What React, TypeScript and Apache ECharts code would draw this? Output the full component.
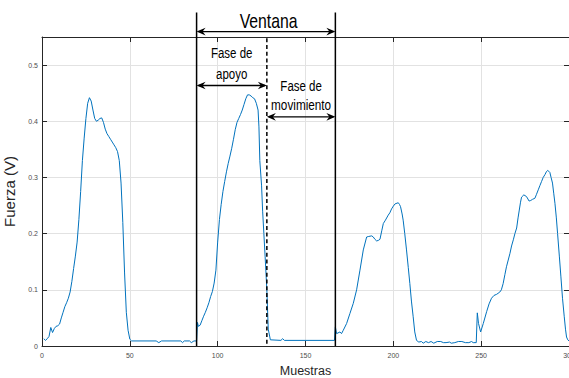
import React, { useEffect, useRef } from "react";
import * as echarts from "echarts";

// ---- Data ----
const muestras = [
  1, 2, 3, 4, 5, 6, 7, 8, 9, 10, 11, 12, 13, 14, 15, 16, 17, 18, 19, 20,
  21, 22, 23, 24, 25, 26, 27, 28, 29, 30, 31, 32, 33, 34, 35, 36, 37, 38, 39, 40,
  41, 42, 43, 44, 45, 46, 47, 48, 49, 50, 51, 65, 66.5, 68, 79, 80, 81, 84, 85, 86.5,
  88, 88.5, 89, 90, 91, 92, 93, 94, 95, 96, 97, 98, 99, 100, 101, 102, 103, 104, 105, 106,
  107, 108, 109, 110, 111, 112, 113, 114, 115, 116, 117, 118, 119, 120, 121, 122, 123, 123.5, 124, 125,
  125.6, 126.3, 127, 128, 128.8, 130, 136, 137, 138, 166.5,
  167, 167.7, 169.6, 170.5, 171.5, 173.4, 175.3, 177.2, 179.1, 181, 182.9, 184.8, 186, 187.7, 188.6, 189.5, 190.5, 191.5, 192.4, 193.4,
  194.3, 195.5, 197.1, 198, 199, 200, 201, 202.8, 203.5, 204.1, 205, 205.6, 206.5, 207.5, 208.5, 209.4, 210.3, 211.3, 212.2, 213.2,
  214.5, 216, 217, 218.5, 220, 221.5, 223, 225, 227, 228.5, 230, 232, 233, 235, 237, 239, 241, 243, 244.5, 245.5,
  247.2, 247.8, 248.5, 249.7, 251.2, 253.1, 254.5, 255.9, 257.3, 258.8, 260.6, 261.5, 262.5, 263.5, 264.4, 265.4, 266.4, 267.3, 268.3, 269.2,
  270.2, 271, 271.7, 272.4, 273, 274.3, 275.8, 277.3, 278.2, 279.2, 280.6, 281.5, 282.5, 283.5, 284.4, 285.3, 286.3, 287.1, 287.8, 288.5,
  289.1, 289.8, 290.6, 291.3, 292, 292.8, 293.5, 294.5, 295.4, 296.3, 297.3, 298, 298.6, 299.3, 300,
];

const fuerza = [
  0.013, 0.010, 0.013, 0.017, 0.033, 0.024, 0.031, 0.035, 0.036, 0.039, 0.05, 0.06, 0.07, 0.077, 0.085, 0.096, 0.115, 0.138, 0.16, 0.185,
  0.225, 0.275, 0.33, 0.37, 0.405, 0.432, 0.442, 0.436, 0.42, 0.405, 0.4, 0.402, 0.405, 0.406, 0.398, 0.386, 0.378, 0.373, 0.368, 0.363,
  0.358, 0.353, 0.346, 0.33, 0.29, 0.22, 0.13, 0.06, 0.028, 0.012, 0.009, 0.009, 0.006, 0.009, 0.009, 0.006, 0.009, 0.009, 0.006, 0.009,
  0.009, 0.042, 0.035, 0.037, 0.045, 0.053, 0.06, 0.068, 0.077, 0.088, 0.097, 0.112, 0.135, 0.185, 0.225, 0.252, 0.275, 0.293, 0.31, 0.325,
  0.338, 0.352, 0.368, 0.385, 0.398, 0.405, 0.412, 0.42, 0.43, 0.44, 0.447, 0.447, 0.445, 0.442, 0.44, 0.432, 0.42, 0.39, 0.33, 0.285,
  0.24, 0.2, 0.16, 0.1, 0.03, 0.011, 0.01, 0.013, 0.01, 0.01,
  0.034, 0.022, 0.025, 0.022, 0.028, 0.04, 0.058, 0.076, 0.1, 0.135, 0.171, 0.194, 0.195, 0.196, 0.194, 0.19, 0.187, 0.188, 0.19, 0.205,
  0.218, 0.224, 0.233, 0.237, 0.244, 0.249, 0.253, 0.255, 0.252, 0.248, 0.235, 0.224, 0.2, 0.171, 0.14, 0.111, 0.08, 0.052, 0.025, 0.01,
  0.007, 0.008, 0.005, 0.008, 0.006, 0.008, 0.005, 0.008, 0.008, 0.006, 0.006, 0.007, 0.005, 0.006, 0.008, 0.008, 0.006, 0.006, 0.008, 0.006,
  0.006, 0.059, 0.04, 0.025, 0.04, 0.061, 0.075, 0.085, 0.09, 0.092, 0.096, 0.1, 0.111, 0.127, 0.141, 0.153, 0.165, 0.178, 0.189, 0.2,
  0.21, 0.228, 0.242, 0.256, 0.265, 0.269, 0.266, 0.258, 0.259, 0.261, 0.263, 0.27, 0.278, 0.286, 0.293, 0.3, 0.305, 0.31, 0.3125, 0.311,
  0.309, 0.3, 0.29, 0.272, 0.254, 0.228, 0.2, 0.16, 0.123, 0.085, 0.052, 0.03, 0.016, 0.011, 0.009,
];

// Axis ranges / ticks
const xRange = [0, 300];
const xStep = 50;
const yRange = [0, 0.55];
const yStep = 0.1;

// Annotation boundaries (sample index)
const ventanaInicio = 88;
const cambioFase = 128;
const ventanaFin = 167;

// Annotation texts
const textoVentana = "Ventana";
const textoApoyo = ["Fase de", "apoyo"];
const textoMovimiento = ["Fase de", "movimiento"];

const SANS = "'Liberation Sans', Arial, sans-serif";
const AXIS_DARK = "#262626";

function arrowHead(tipX: number, y: number, dir: number) {
  // dir = -1 -> pointing left, +1 -> pointing right
  const L = 9;
  const W = 3.8;
  const N = 6;
  return {
    type: "polygon",
    silent: true,
    shape: {
      points: [
        [tipX, y],
        [tipX - dir * L, y - W],
        [tipX - dir * N, y],
        [tipX - dir * L, y + W],
      ],
    },
    style: { fill: "#000" },
    z: 10,
  };
}

function doubleArrow(x1: number, x2: number, y: number) {
  return [
    {
      type: "line",
      silent: true,
      shape: { x1: x1 + 2, y1: y, x2: x2 - 2, y2: y },
      style: { stroke: "#000", lineWidth: 1.4 },
      z: 10,
    },
    arrowHead(x1, y, -1),
    arrowHead(x2, y, 1),
  ];
}

export default function App() {
  const ref = useRef<HTMLDivElement>(null);

  useEffect(() => {
    if (!ref.current) return;
    const chart = echarts.init(ref.current, null, { renderer: "svg" });

    const axisTick = { show: true, inside: true, length: 5, lineStyle: { color: AXIS_DARK, width: 1 } };
    const axisLine = { show: true, onZero: false, lineStyle: { color: AXIS_DARK, width: 1 } };
    const splitLine = { show: true, lineStyle: { color: "#e2e2e2", width: 1 } };

    chart.setOption({
      animation: false,
      backgroundColor: "#ffffff",
      grid: { left: 42, right: 0, top: 37, bottom: 32, containLabel: false, outerBoundsMode: "none" },
      xAxis: [
        {
          type: "value",
          position: "bottom",
          min: xRange[0],
          max: xRange[1],
          interval: xStep,
          name: "Muestras",
          nameLocation: "middle",
          nameGap: 18,
          nameTextStyle: { fontFamily: SANS, fontSize: 12.5, color: AXIS_DARK },
          axisLine,
          axisTick,
          axisLabel: { fontSize: 7, color: "#4d4d4d", margin: 6, fontFamily: SANS },
          splitLine,
        },
        {
          type: "value",
          position: "top",
          min: xRange[0],
          max: xRange[1],
          interval: xStep,
          axisLine,
          axisTick,
          axisLabel: { show: false },
          splitLine: { show: false },
        },
      ],
      yAxis: [
        {
          type: "value",
          position: "left",
          min: yRange[0],
          max: yRange[1],
          interval: yStep,
          name: "Fuerza (V)",
          nameLocation: "middle",
          nameGap: 13,
          nameRotate: 90,
          nameTextStyle: { fontFamily: SANS, fontSize: 15, color: AXIS_DARK },
          axisLine,
          axisTick,
          axisLabel: { fontSize: 7, color: "#4d4d4d", margin: 4, fontFamily: SANS, showMaxLabel: false },
          splitLine,
        },
        {
          type: "value",
          position: "right",
          min: yRange[0],
          max: yRange[1],
          interval: yStep,
          axisLine,
          axisTick,
          axisLabel: { show: false },
          splitLine: { show: false },
        },
      ],
      series: [
        {
          type: "line",
          xAxisIndex: 0,
          yAxisIndex: 0,
          data: muestras.map((m, i) => [m, fuerza[i]]),
          showSymbol: false,
          symbol: "none",
          lineStyle: { color: "#0072BD", width: 1 },
          z: 3,
        },
      ],
    });

    const px = (v: number) => chart.convertToPixel({ xAxisIndex: 0 }, v) as number;
    const py = (v: number) => chart.convertToPixel({ yAxisIndex: 0 }, v) as number;

    const xA = px(ventanaInicio);
    const xB = px(cambioFase);
    const xC = px(ventanaFin);
    const yBottom = py(0);

    const label = (text: string, xv: number, yv: number, size: number, sx: number) => ({
      type: "text",
      silent: true,
      z: 10,
      x: px(xv),
      y: py(yv),
      scaleX: sx,
      style: {
        text,
        fontFamily: SANS,
        fontSize: size,
        fill: "#000",
        align: "center",
        verticalAlign: "middle",
      },
    });

    const graphic: any[] = [
      {
        type: "line",
        silent: true,
        shape: { x1: xA, y1: py(0.5936), x2: xA, y2: yBottom },
        style: { stroke: "#000", lineWidth: 1.5 },
        z: 10,
      },
      {
        type: "line",
        silent: true,
        shape: { x1: xC, y1: py(0.5936), x2: xC, y2: yBottom },
        style: { stroke: "#000", lineWidth: 1.5 },
        z: 10,
      },
      {
        type: "line",
        silent: true,
        shape: { x1: xB, y1: py(0.5477), x2: xB, y2: yBottom },
        style: { stroke: "#000", lineWidth: 1.5, lineDash: [4, 2.7] },
        z: 10,
      },
      ...doubleArrow(xA, xC, py(0.5596)),
      ...doubleArrow(xA, xB, py(0.4638)),
      ...doubleArrow(xB, xC, py(0.4079)),
      label(textoVentana, 129, 0.5786, 20, 0.79),
      label(textoApoyo[0], 108, 0.5209, 14, 0.82),
      label(textoApoyo[1], 108, 0.4845, 14, 0.82),
      label(textoMovimiento[0], 147.5, 0.4623, 14, 0.82),
      label(textoMovimiento[1], 147.5, 0.428, 14, 0.84),
    ];

    chart.setOption({ graphic });

    return () => {
      chart.dispose();
    };
  }, []);

  return (
    <div
      ref={ref}
      style={{ position: "fixed", left: 0, top: 0, width: 569, height: 378, background: "#fff" }}
    />
  );
}
